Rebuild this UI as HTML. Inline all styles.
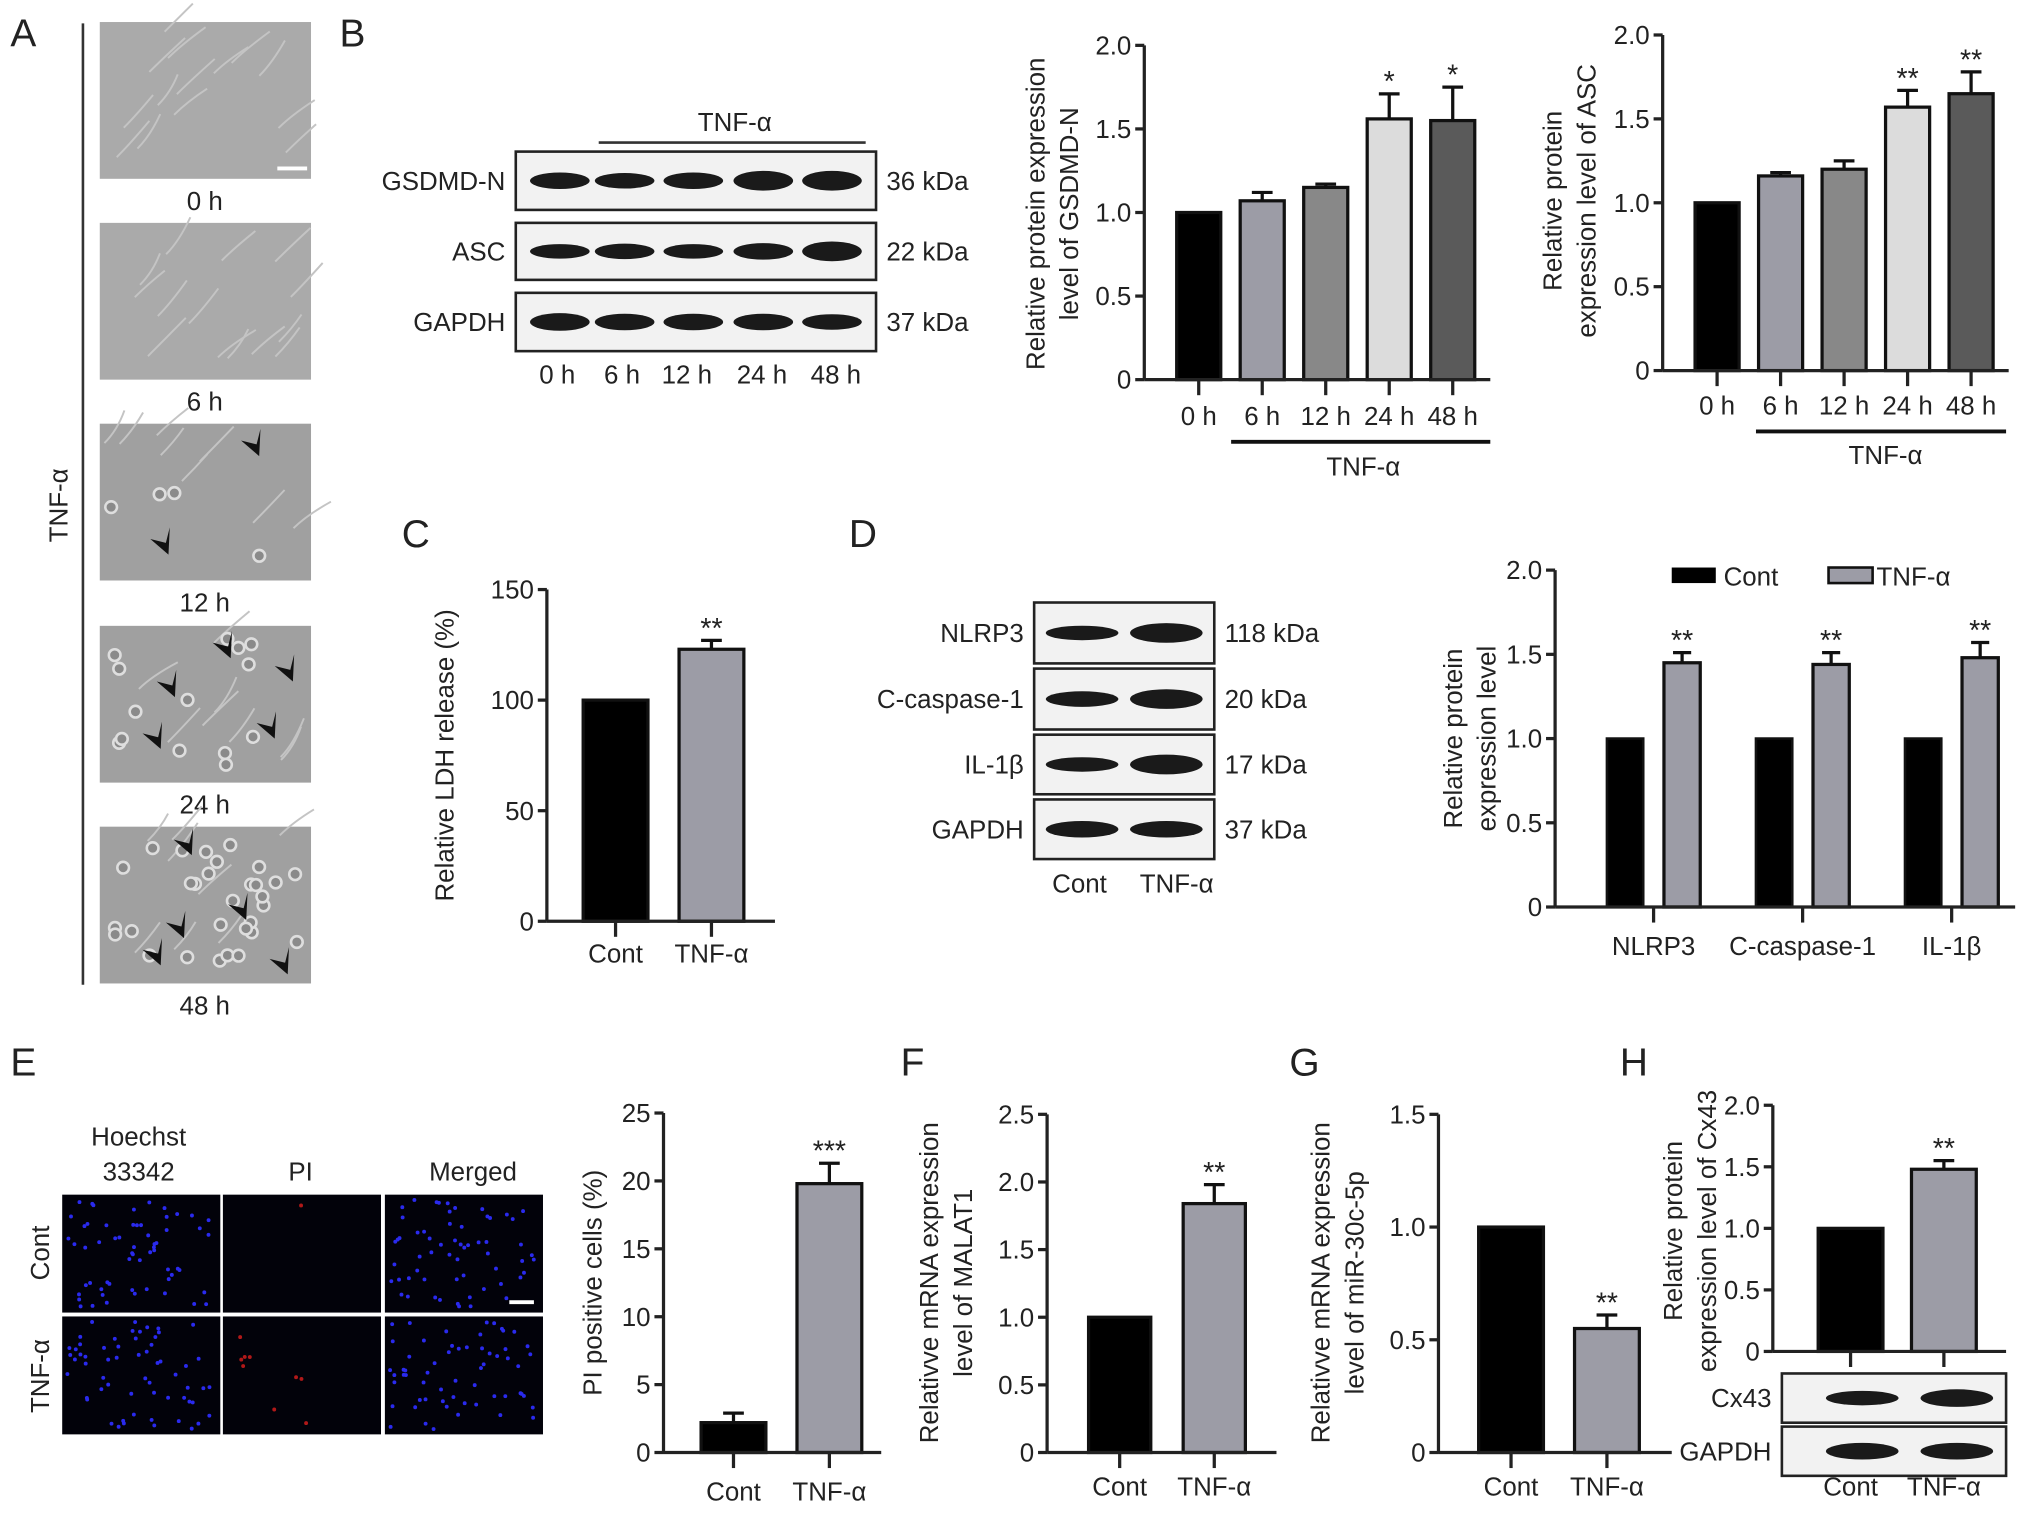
<!DOCTYPE html>
<html><head><meta charset="utf-8"><style>
html,body{margin:0;padding:0;background:#fff;}
svg{display:block;}
text{font-family:"Liberation Sans",sans-serif;fill:#222;}
</style></head><body>
<svg id="fig" xmlns="http://www.w3.org/2000/svg" width="2032" height="1516" viewBox="0 0 1568 1170" preserveAspectRatio="none">
<g id="static" font-size="20">
  <text x="8" y="36" font-size="30">A</text>
  <text x="262" y="36" font-size="30">B</text>
  <text x="310" y="422" font-size="30">C</text>
  <text x="655" y="422" font-size="30">D</text>
  <text x="8" y="830" font-size="30">E</text>
  <text x="695" y="830" font-size="30">F</text>
  <text x="995" y="830" font-size="30">G</text>
  <text x="1250" y="830" font-size="30">H</text>
  <line x1="64" y1="18" x2="64" y2="760" stroke="#333" stroke-width="2"/>
  <text transform="translate(52,390) rotate(-90)" text-anchor="middle" font-size="20">TNF-α</text>
</g>
<g id="dyn"></g>
</svg>
<script>
// ===== Data arrays =====
const aTimes = ["0 h","6 h","12 h","24 h","48 h"];

const b1Cats = ["0 h","6 h","12 h","24 h","48 h"];
const b1Vals = [1.0, 1.07, 1.15, 1.56, 1.55];
const b1Errs = [0, 0.05, 0.02, 0.15, 0.2];
const b1Stars = ["","","","*","*"];
const b1Ticks = [0, 0.5, 1.0, 1.5, 2.0];
const b1TickLabels = ["0","0.5","1.0","1.5","2.0"];

const b2Cats = ["0 h","6 h","12 h","24 h","48 h"];
const b2Vals = [1.0, 1.16, 1.2, 1.57, 1.65];
const b2Errs = [0, 0.02, 0.05, 0.1, 0.13];
const b2Stars = ["","","","**","**"];
const b2Ticks = [0, 0.5, 1.0, 1.5, 2.0];
const b2TickLabels = ["0","0.5","1.0","1.5","2.0"];

const cCats = ["Cont","TNF-α"];
const cVals = [100, 123];
const cErrs = [0, 4];
const cStars = ["","**"];
const cTicks = [0, 50, 100, 150];
const cTickLabels = ["0","50","100","150"];

const dCats = ["NLRP3","C-caspase-1","IL-1β"];
const dContVals = [1.0, 1.0, 1.0];
const dTnfVals = [1.45, 1.44, 1.48];
const dTnfErrs = [0.06, 0.07, 0.09];
const dStars = ["**","**","**"];
const dTicks = [0, 0.5, 1.0, 1.5, 2.0];
const dTickLabels = ["0","0.5","1.0","1.5","2.0"];

const eCats = ["Cont","TNF-α"];
const eVals = [2.2, 19.8];
const eErrs = [0.7, 1.5];
const eStars = ["","***"];
const eTicks = [0, 5, 10, 15, 20, 25];
const eTickLabels = ["0","5","10","15","20","25"];

const fCats = ["Cont","TNF-α"];
const fVals = [1.0, 1.84];
const fErrs = [0, 0.14];
const fStars = ["","**"];
const fTicks = [0, 0.5, 1.0, 1.5, 2.0, 2.5];
const fTickLabels = ["0","0.5","1.0","1.5","2.0","2.5"];

const gCats = ["Cont","TNF-α"];
const gVals = [1.0, 0.55];
const gErrs = [0, 0.06];
const gStars = ["","**"];
const gTicks = [0, 0.5, 1.0, 1.5];
const gTickLabels = ["0","0.5","1.0","1.5"];

const hCats = ["Cont","TNF-α"];
const hVals = [1.0, 1.48];
const hErrs = [0, 0.07];
const hStars = ["","**"];
const hTicks = [0, 0.5, 1.0, 1.5, 2.0];
const hTickLabels = ["0","0.5","1.0","1.5","2.0"];

// ===== Helpers =====
const NS = "http://www.w3.org/2000/svg";
const root = document.getElementById("dyn");
function mk(tag, attrs, parent, txt){
  const e = document.createElementNS(NS, tag);
  for (const k in attrs) e.setAttribute(k, attrs[k]);
  if (txt !== undefined) e.textContent = txt;
  (parent||root).appendChild(e);
  return e;
}
function grp(name){
  const g = mk("g", {});
  
  
  return g;
}
function txt(parent, x, y, s, name, opts){
  const t = mk("text", Object.assign({x:x, y:y, "font-size":20}, opts||{}), parent, s);
  
  
  return t;
}

function barChart(name, L, cats, vals, errs, stars, colors, ticks, tickLabels, titleLines){
  const g = grp(name);
  const ymax = ticks[ticks.length-1];
  const yScale = v => L.y0 - (v/ymax)*(L.y0 - L.yTop);
  const xScale = i => L.first + i*L.step;
  const ya = mk("line", {x1:L.ax, y1:L.yTop, x2:L.ax, y2:L.y0, stroke:"#222","stroke-width":2.5}, g);
  
  
  ticks.forEach((t,i)=>{
    const y = yScale(t);
    const tk = mk("line", {x1:L.ax-7, y1:y, x2:L.ax, y2:y, stroke:"#222","stroke-width":2.5}, g);
    
    
    txt(g, L.ax-10, y+7, tickLabels[i], "y-tick-label", {"text-anchor":"end"});
  });
  cats.forEach((c,i)=>{
    const cx = xScale(i);
    const top = yScale(vals[i]);
    const r = mk("rect", {x:cx-L.bw/2, y:top, width:L.bw, height:L.y0-top, fill:colors[i], stroke:"#111","stroke-width":2.5}, g);
    
    
    let markTop = top;
    if (errs[i] > 0){
      const ey = yScale(vals[i]+errs[i]);
      const el = mk("path", {d:`M${cx},${top} V${ey} M${cx-8},${ey} H${cx+8}`, stroke:"#111","stroke-width":2.5, fill:"none"}, g);
      
      
      markTop = ey;
    }
    if (stars[i]) txt(g, cx, markTop-2, stars[i], "significance-mark", {"text-anchor":"middle","font-size":22,"fill":"#444"});
    const xt = mk("line", {x1:cx, y1:L.y0, x2:cx, y2:L.y0+12, stroke:"#222","stroke-width":2.5}, g);
    
    
    txt(g, cx + (L.labDx||0), L.labY, c, "x-tick-label", {"text-anchor":"middle"});
  });
  const xa = mk("line", {x1:L.ax, y1:L.y0, x2:L.xEnd, y2:L.y0, stroke:"#222","stroke-width":2.5}, g);
  
  
  titleLines.forEach((s,k)=>{
    const t = mk("text", {transform:`translate(${L.tx + k*26},${L.ty}) rotate(-90)`, "text-anchor":"middle","font-size":20}, g, s);
    
    
  });
  return g;
}

function blot(name, x1, x2, rows, lanes, bandW, intens){
  const g = grp(name);
  rows.forEach((r,ri)=>{
    const box = mk("rect", {x:x1, y:r.y1, width:x2-x1, height:r.y2-r.y1, fill:"#f2f2f2", stroke:"#222","stroke-width":2}, g);
    
    
    const cy = (r.y1+r.y2)/2;
    lanes.forEach((lx,li)=>{
      const h = 8 + 8*intens[ri][li];
      const b = mk("ellipse", {cx:lx, cy:cy, rx:bandW/2, ry:h/2, fill:"#1a1a1a"}, g);
      
      
    });
    txt(g, x1-8, cy+7, r.label, "protein-label", {"text-anchor":"end"});
    if (r.kda) txt(g, x2+8, cy+7, r.kda, "molecular-weight-label", {});
  });
  return g;
}

// ===== Panel A micrographs =====
(function(){
  const g = grp("panel-a-micrographs");
  const ys = [17,172,327,483,638];
  let s = 3;
  function rnd(){ s = (s*9301+49297)%233280; return s/233280; }
  const nCells = [0,0,4,14,30];
  ys.forEach((y,i)=>{
    const r = mk("rect", {x:77, y:y, width:163, height:121, fill: i<2 ? "#aaaaaa" : "#a0a0a0"}, g);
    
    
    for (let k=0;k<(i<2?14:8);k++){
      const x0 = 80+rnd()*150, y0 = y+5+rnd()*105;
      const st = mk("path", {d:`M${x0},${y0} q10,-10 ${15+rnd()*15},${-20-rnd()*10}`, stroke:"#c4c4c4","stroke-width":1.5, fill:"none"}, g);
      
      
    }
    for (let k=0;k<nCells[i];k++){
      const a = mk("circle", {cx:84+rnd()*150, cy:y+7+rnd()*107, r:4.5, fill:"#8a8a8a", stroke:"#dedede","stroke-width":2}, g);
      
      
    }
    txt(g, 158, y+145, aTimes[i], "time-caption", {"text-anchor":"middle"});
  });
  const sb = mk("line", {x1:214, y1:130, x2:237, y2:130, stroke:"#fff","stroke-width":3}, g);
  
  
  const arr = [[200,352],[130,428],[178,508],[226,526],[135,538],[212,570],[124,578],[148,660],[190,710],[142,724],[124,745],[222,752]];
  arr.forEach(a=>{
    const [x,y] = a;
    const p = mk("path", {d:`M${x},${y} l-14,-12 l12,3 l3,-12 z`, fill:"#111"}, g);
    
    
  });
})();

// ===== Panel B blot =====
blot("panel-b-blot", 398, 676,
  [{label:"GSDMD-N", kda:"36 kDa", y1:117, y2:162},{label:"ASC", kda:"22 kDa", y1:172, y2:216},{label:"GAPDH", kda:"37 kDa", y1:226, y2:271}],
  [432,482,535,589,642], 46,
  [[0.6,0.5,0.6,0.9,0.9],[0.4,0.5,0.4,0.6,0.9],[0.7,0.6,0.6,0.6,0.5]]);
(function(){
  const g = grp("panel-b-blot-annotations");
  txt(g, 567, 101, "TNF-α", "treatment-label", {"text-anchor":"middle"});
  const l = mk("line", {x1:462, y1:110, x2:668, y2:110, stroke:"#333","stroke-width":2}, g);
  
  
  [430,480,530,588,645].forEach((x,i)=>txt(g, x, 296, aTimes[i], "lane-label", {"text-anchor":"middle"}));
})();

const grays5 = ["#000","#9c9ca6","#888","#dcdcdc","#5a5a5a"];
barChart("chart-gsdmd-n", {ax:883, y0:293, yTop:35, first:925, step:49, bw:34, labY:328, xEnd:1150, tx:806, ty:165},
  b1Cats, b1Vals, b1Errs, b1Stars, grays5, b1Ticks, b1TickLabels, ["Relative protein expression","level of GSDMD-N"]);
barChart("chart-asc", {ax:1283, y0:286, yTop:27, first:1325, step:49, bw:34, labY:320, xEnd:1550, tx:1205, ty:155},
  b2Cats, b2Vals, b2Errs, b2Stars, grays5, b2Ticks, b2TickLabels, ["Relative protein","expression level of ASC"]);
(function(){
  const g = grp("chart-b-treatment-annotations");
  let l = mk("line", {x1:950, y1:341, x2:1150, y2:341, stroke:"#111","stroke-width":3}, g);
  
  
  txt(g, 1052, 367, "TNF-α", "treatment-label", {"text-anchor":"middle"});
  l = mk("line", {x1:1355, y1:333, x2:1548, y2:333, stroke:"#111","stroke-width":3}, g);
  
  
  txt(g, 1455, 358, "TNF-α", "treatment-label", {"text-anchor":"middle"});
})();

// ===== Panel C =====
barChart("chart-ldh-release", {ax:422, y0:711, yTop:455, first:475, step:74, bw:50, labY:743, xEnd:598, tx:350, ty:583},
  cCats, cVals, cErrs, cStars, ["#000","#9c9ca6"], cTicks, cTickLabels, ["Relative LDH release (%)"]);

// ===== Panel D =====
blot("panel-d-blot", 798, 937,
  [{label:"NLRP3", kda:"118 kDa", y1:465, y2:512},{label:"C-caspase-1", kda:"20 kDa", y1:516, y2:563},{label:"IL-1β", kda:"17 kDa", y1:567, y2:613},{label:"GAPDH", kda:"37 kDa", y1:617, y2:663}],
  [835,900], 56, [[0.4,0.9],[0.5,0.9],[0.4,0.9],[0.6,0.6]]);
(function(){
  const g = grp("panel-d-lane-labels");
  txt(g, 833, 689, "Cont", "lane-label", {"text-anchor":"middle"});
  txt(g, 908, 689, "TNF-α", "lane-label", {"text-anchor":"middle"});
})();
(function(){
  const g = grp("chart-inflammasome");
  const L = {ax:1200, y0:700, yTop:440, xEnd:1555, first:1276, step:115, off:22, bw:28};
  const ymax = dTicks[dTicks.length-1];
  const yScale = v => L.y0 - (v/ymax)*(L.y0-L.yTop);
  let e = mk("line", {x1:L.ax, y1:L.yTop, x2:L.ax, y2:L.y0, stroke:"#222","stroke-width":2.5}, g);
  
  
  dTicks.forEach((t,i)=>{
    const y = yScale(t);
    const tk = mk("line", {x1:L.ax-7, y1:y, x2:L.ax, y2:y, stroke:"#222","stroke-width":2.5}, g);
    
    
    txt(g, L.ax-10, y+7, dTickLabels[i], "y-tick-label", {"text-anchor":"end"});
  });
  dCats.forEach((c,i)=>{
    const cx = L.first + i*L.step;
    const t1 = yScale(dContVals[i]);
    let r = mk("rect", {x:cx-L.off-L.bw/2, y:t1, width:L.bw, height:L.y0-t1, fill:"#000", stroke:"#111","stroke-width":2}, g);
    
    
    const t2 = yScale(dTnfVals[i]);
    r = mk("rect", {x:cx+L.off-L.bw/2, y:t2, width:L.bw, height:L.y0-t2, fill:"#9c9ca6", stroke:"#111","stroke-width":2.5}, g);
    
    
    const ey = yScale(dTnfVals[i]+dTnfErrs[i]);
    const ex = cx+L.off;
    const el = mk("path", {d:`M${ex},${t2} V${ey} M${ex-7},${ey} H${ex+7}`, stroke:"#111","stroke-width":2.5, fill:"none"}, g);
    
    
    txt(g, ex, ey-2, dStars[i], "significance-mark", {"text-anchor":"middle","font-size":22,"fill":"#444"});
    const xt = mk("line", {x1:cx, y1:L.y0, x2:cx, y2:L.y0+12, stroke:"#222","stroke-width":2.5}, g);
    
    
    txt(g, cx, 737, c, "x-tick-label", {"text-anchor":"middle"});
  });
  e = mk("line", {x1:L.ax, y1:L.y0, x2:L.xEnd, y2:L.y0, stroke:"#222","stroke-width":2.5}, g);
  
  
  ["Relative protein","expression level"].forEach((s,k)=>{
    const t = mk("text", {transform:`translate(${1128+k*26},570) rotate(-90)`, "text-anchor":"middle","font-size":20}, g, s);
    
    
  });
  const lg = grp("legend");
  let lr = mk("rect", {x:1290, y:438, width:34, height:12, fill:"#000"}, lg);
  
  
  txt(lg, 1330, 452, "Cont", "legend-entry", {});
  lr = mk("rect", {x:1411, y:438, width:34, height:12, fill:"#9c9ca6", stroke:"#111","stroke-width":2}, lg);
  
  
  txt(lg, 1448, 452, "TNF-α", "legend-entry", {});
})();

// ===== Panel E images =====
(function(){
  const g = grp("panel-e-fluorescence");
  const xs = [48,172,297];
  const ys = [922,1016];
  let s = 7;
  function rnd(){ s = (s*9301+49297)%233280; return s/233280; }
  ys.forEach((y,ri)=>{
    xs.forEach((x,ci)=>{
      const r = mk("rect", {x:x, y:y, width:122, height:91, fill:"#02020a"}, g);
      
      
      const n = ci===1 ? (ri===0?1:9) : 60;
      for (let k=0;k<n;k++){
        const d = mk("circle", {cx:x+4+rnd()*114, cy:y+4+rnd()*83, r:1.5, fill: ci===1 ? "#b01818" : "#2a2aee"}, g);
        
        
      }
    });
  });
  const sb = mk("line", {x1:393, y1:1005, x2:412, y2:1005, stroke:"#fff","stroke-width":3}, g);
  
  
  txt(g, 107, 884, "Hoechst", "column-header", {"text-anchor":"middle"});
  txt(g, 107, 911, "33342", "column-header", {"text-anchor":"middle"});
  txt(g, 232, 911, "PI", "column-header", {"text-anchor":"middle"});
  txt(g, 365, 911, "Merged", "column-header", {"text-anchor":"middle"});
  let t = mk("text", {transform:"translate(38,967) rotate(-90)", "text-anchor":"middle","font-size":20}, g, "Cont");
  
  
  t = mk("text", {transform:"translate(38,1062) rotate(-90)", "text-anchor":"middle","font-size":20}, g, "TNF-α");
  
  
})();
barChart("chart-pi-positive", {ax:512, y0:1121, yTop:859, first:566, step:74, bw:50, labY:1158, xEnd:680, tx:464, ty:990},
  eCats, eVals, eErrs, eStars, ["#000","#9c9ca6"], eTicks, eTickLabels, ["PI positive cells (%)"]);

// ===== Panel F =====
barChart("chart-malat1", {ax:808, y0:1121, yTop:860, first:864, step:73, bw:48, labY:1154, xEnd:985, tx:724, ty:990},
  fCats, fVals, fErrs, fStars, ["#000","#9c9ca6"], fTicks, fTickLabels, ["Relativve mRNA expression","level of MALAT1"]);

// ===== Panel G =====
barChart("chart-mir30c", {ax:1110, y0:1121, yTop:860, first:1166, step:74, bw:50, labY:1154, xEnd:1290, tx:1026, ty:990},
  gCats, gVals, gErrs, gStars, ["#000","#9c9ca6"], gTicks, gTickLabels, ["Relativve mRNA expression","level of miR-30c-5p"]);

// ===== Panel H =====
barChart("chart-cx43", {ax:1368, y0:1043, yTop:853, first:1428, step:72, bw:50, labY:1154, xEnd:1548, tx:1298, ty:950},
  hCats, hVals, hErrs, hStars, ["#000","#9c9ca6"], hTicks, hTickLabels, ["Relative protein","expression level of Cx43"]);
blot("panel-h-blot", 1375, 1548,
  [{label:"Cx43", kda:"", y1:1060, y2:1098},{label:"GAPDH", kda:"", y1:1101, y2:1139}],
  [1437,1510], 56, [[0.4,0.7],[0.6,0.6]]);
</script>
</body></html>
